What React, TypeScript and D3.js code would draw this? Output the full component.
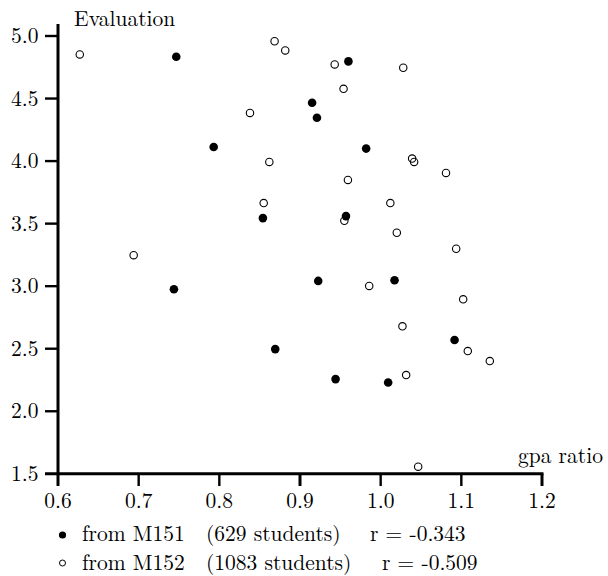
import React from "react";
import * as d3 from "d3";

const m151X = [0.7466, 0.793, 0.854, 0.96, 0.915, 0.921, 0.982, 0.957, 0.7437, 0.8693, 0.9226, 1.0172, 1.0916, 0.9441, 1.0093];
const m151Y = [4.834, 4.113, 3.544, 4.797, 4.466, 4.346, 4.1, 3.56, 2.975, 2.497, 3.042, 3.047, 2.57, 2.257, 2.23];

const m152X = [0.627, 0.8685, 0.8817, 0.838, 0.862, 0.855, 0.943, 1.028, 0.954, 1.039, 1.0415, 1.081, 0.9594, 1.012, 0.955, 1.02, 1.0936, 0.6938, 0.9858, 1.1023, 1.027, 1.108, 1.1353, 1.0316, 1.0465];
const m152Y = [4.853, 4.958, 4.885, 4.385, 3.993, 3.664, 4.773, 4.746, 4.578, 4.02, 3.993, 3.905, 3.849, 3.664, 3.523, 3.427, 3.299, 3.248, 3.002, 2.895, 2.679, 2.481, 2.401, 2.289, 1.557];

const xTicks = [0.6, 0.7, 0.8, 0.9, 1.0, 1.1, 1.2];
const yTicks = [1.5, 2.0, 2.5, 3.0, 3.5, 4.0, 4.5, 5.0];

const xTitle = "gpa ratio";
const yTitle = "Evaluation";
const legendLines = [
  { from: "from M151", count: "(629 students)", r: "r = -0.343", filled: true },
  { from: "from M152", count: "(1083 students)", r: "r = -0.509", filled: false },
];

const FONT = '"Latin Modern Roman", "Liberation Serif", serif';

export default function App() {
  const x = d3.scaleLinear().domain([0.6, 1.2]).range([58, 542]);
  const y = d3.scaleLinear().domain([1.5, 5.0]).range([473.8, 36]);
  const fmt = d3.format(".1f");

  const legendPos = [
    { y: 541, by: 535, fromX: 82, countX: 206, rX: 370 },
    { y: 570, by: 563, fromX: 82, countX: 206, rX: 382 },
  ];

  const ts = { fontFamily: FONT };
  const FS = 21.5;

  return (
    <svg width={608} height={576} style={{ position: "absolute", left: 0, top: 0, background: "#fff" }}>
      <rect x={0} y={0} width={608} height={576} fill="#fff" />
      {/* axes */}
      <line x1={x(0.6)} x2={x(0.6)} y1={24} y2={486} stroke="#000" strokeWidth={3} />
      <line x1={45} x2={x(1.2) + 1.5} y1={y(1.5)} y2={y(1.5)} stroke="#000" strokeWidth={3} />
      {xTicks.slice(1).map((t) => (
        <line key={"xt" + t} x1={x(t)} x2={x(t)} y1={y(1.5)} y2={486} stroke="#000" strokeWidth={t === 1.2 || t === 0.9 ? 3 : 2.4} />
      ))}
      {yTicks.slice(1).map((t) => (
        <line key={"yt" + t} x1={45} x2={x(0.6)} y1={y(t)} y2={y(t)} stroke="#000" strokeWidth={2.4} />
      ))}
      {xTicks.map((t) => (
        <text key={"xl" + t} style={ts} x={x(t)} y={508} textAnchor="middle" fontSize={FS} fill="#000">
          {fmt(t)}
        </text>
      ))}
      {yTicks.map((t) => (
        <text key={"yl" + t} style={ts} x={38.5} y={y(t) + 7} textAnchor="end" fontSize={FS} fill="#000">
          {fmt(t)}
        </text>
      ))}
      <text style={ts} x={74} y={26} fontSize={FS} fill="#000">
        {yTitle}
      </text>
      <text style={ts} x={518} y={463} fontSize={FS} fill="#000">
        {xTitle}
      </text>
      {/* points */}
      {m152X.map((v, i) => (
        <circle key={"o" + i} cx={x(v)} cy={y(m152Y[i])} r={3.7} fill="none" stroke="#000" strokeWidth={1.1} />
      ))}
      {m151X.map((v, i) => (
        <circle key={"f" + i} cx={x(v)} cy={y(m151Y[i])} r={4.3} fill="#000" />
      ))}
      {/* legend */}
      {legendLines.map((l, i) => {
        const p = legendPos[i];
        return (
          <g key={"lg" + i} fontSize={FS} fill="#000">
            {l.filled ? (
              <circle cx={62.5} cy={p.by} r={3.6} fill="#000" />
            ) : (
              <circle cx={62.5} cy={p.by} r={3} fill="none" stroke="#000" strokeWidth={1} />
            )}
            <text style={ts} x={p.fromX} y={p.y}>{l.from}</text>
            <text style={ts} x={p.countX} y={p.y}>{l.count}</text>
            <text style={ts} x={p.rX} y={p.y}>{l.r}</text>
          </g>
        );
      })}
    </svg>
  );
}
